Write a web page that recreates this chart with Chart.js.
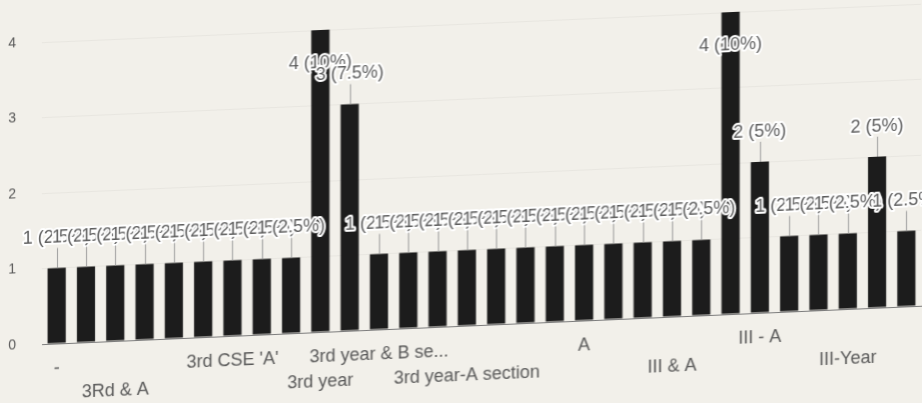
<!DOCTYPE html>
<html>
<head>
<meta charset="utf-8">
<title>Responses by section</title>
<script src="https://cdn.jsdelivr.net/npm/chart.js@4.4.1/dist/chart.umd.min.js"></script>
<style>
    html, body { margin: 0; padding: 0; background: #f2f0ea; overflow: hidden; }
    #wrap {
        position: absolute; left: 0; top: 0;
        width: 922px; height: 420px;
        /* the reference is a photo of a screen, slightly tilted */
        transform: skewY(-2.5deg);
        transform-origin: 0 0;
    }
</style>
</head>
<body>
<div id="wrap"><canvas id="chart"></canvas></div>
<script>
// answers (sorted the way the form summary sorts them)
const categories = [
    '-', '3 rd year', '3Rd & A', '3rd', '3rd A', '3rd CSE', "3rd CSE 'A'", '3rd CSE A', '3rd sem',
    '3rd year', '3rd year & A section', '3rd year & B section', '3rd year A', '3rd year CSE-A',
    '3rd year-A section', '3rd yr', '3rd-A', '3rdA', 'A', 'A section', 'CSE A', 'III & A',
    'III & A section', 'III &A', 'III - A', 'III A', 'III year', 'III-Year', 'III-year', 'III-yr'
];

const counts = [
    1, 1, 1, 1, 1, 1, 1, 1, 1,
    4, 3,
    1, 1, 1, 1, 1, 1, 1, 1, 1, 1, 1, 1,
    4, 2,
    1, 1, 1,
    2, 1
];

// only some category names fit under the axis
const tickLabels = [
    '-', '', '3Rd & A', '', '', '', "3rd CSE 'A'", '', '',
    '3rd year', '', '3rd year & B se...', '', '',
    '3rd year-A section', '', '', '', 'A', '', '', 'III & A',
    '', '', 'III - A', '', '', 'III-Year', '', ''
];

const yTicks = [0, 1, 2, 3, 4];

const total = counts.reduce((a, b) => a + b, 0);
const FONT = '"Liberation Sans", Arial, sans-serif';

function pctText(v) {
    return v + ' (' + Number((v / total * 100).toFixed(1)) + '%)';
}

const annotate = {
    id: 'annotate',
    afterDatasetsDraw(chart) {
        const ctx = chart.ctx;
        const area = chart.chartArea;
        const meta = chart.getDatasetMeta(0);
        ctx.save();
        ctx.font = '18px ' + FONT;
        ctx.textAlign = 'center';
        ctx.textBaseline = 'middle';
        ctx.lineJoin = 'round';
        meta.data.forEach((bar, i) => {
            const txt = pctText(counts[i]);
            let y = bar.y - 30;
            if (y - 9 < area.top) {
                // no room above: put it inside the bar
                y = bar.y + 33;
            } else {
                ctx.strokeStyle = '#9c9c9c';
                ctx.lineWidth = 1;
                ctx.beginPath();
                ctx.moveTo(Math.round(bar.x) + 0.5, y + 10);
                ctx.lineTo(Math.round(bar.x) + 0.5, bar.y);
                ctx.stroke();
            }
            ctx.lineWidth = 4;
            ctx.strokeStyle = '#ffffff';
            ctx.strokeText(txt, bar.x, y);
            ctx.fillStyle = '#5c5c5c';
            ctx.fillText(txt, bar.x, y);
        });
        ctx.restore();
    }
};

new Chart(document.getElementById('chart'), {
    type: 'bar',
    data: {
        labels: categories,
        datasets: [{
            data: counts,
            backgroundColor: '#1c1c1c',
            borderWidth: 0,
            categoryPercentage: 1,
            barPercentage: 0.62
        }]
    },
    options: {
        responsive: true,
        maintainAspectRatio: false,
        devicePixelRatio: 1,
        animation: false,
        layout: { padding: { top: 44, right: 1, left: 0, bottom: 10 } },
        plugins: {
            legend: { display: false },
            tooltip: { enabled: false }
        },
        scales: {
            x: {
                grid: { display: false, drawTicks: false, tickLength: 0 },
                border: { display: true, color: '#7d7d7d', width: 1 },
                afterFit: s => { s.height = 64; },
                ticks: {
                    autoSkip: false,
                    maxRotation: 0,
                    minRotation: 0,
                    padding: 12,
                    color: '#585858',
                    font: { family: FONT, size: 18, lineHeight: 1.4 },
                    callback: function (val, i) {
                        const t = tickLabels[i];
                        if (!t) return '';
                        const n = tickLabels.slice(0, i).filter(s => s).length;
                        return n % 2 ? ['', t] : t;
                    }
                }
            },
            y: {
                min: 0,
                max: 4,
                afterFit: s => { s.width = 42; },
                afterBuildTicks: s => { s.ticks = yTicks.map(v => ({ value: v })); },
                grid: {
                    drawTicks: false,
                    tickLength: 0,
                    color: ctx => ctx.tick && ctx.tick.value === 0 ? 'rgba(0,0,0,0)' : '#e8e6e0'
                },
                border: { display: false },
                ticks: {
                    padding: 26,
                    color: '#585858',
                    font: { family: FONT, size: 14 }
                }
            }
        }
    },
    plugins: [annotate]
});
</script>
</body>
</html>
